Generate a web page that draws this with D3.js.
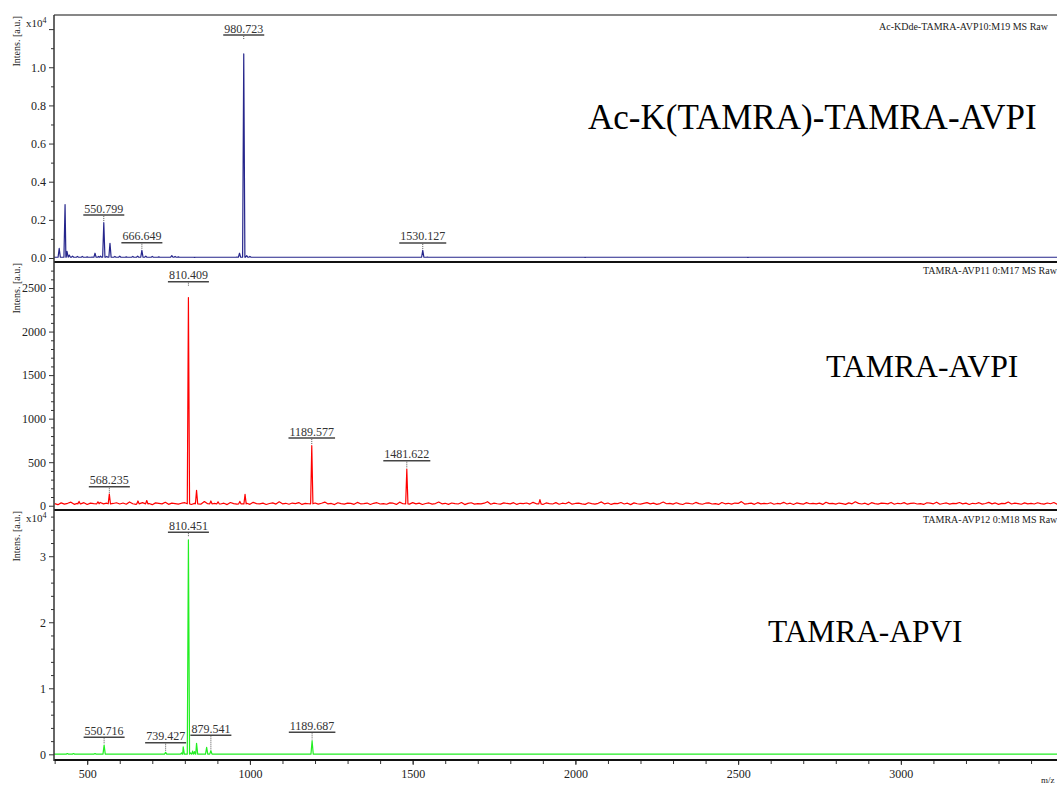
<!DOCTYPE html>
<html><head><meta charset="utf-8">
<script src="https://cdn.jsdelivr.net/npm/d3@7"></script>
<style>
body{margin:0;background:#fff;overflow:hidden}
svg{display:block}
text{font-family:"Liberation Serif","Times New Roman",serif;}
</style>
</head><body>
<svg id="c" width="1057" height="787"></svg>
<script>
// ---------------- DATA ----------------
const xDomain = [398, 3500];
const xMajorTicks = [500, 1000, 1500, 2000, 2500, 3000, 3500];
const xMinorTicks = d3.range(400, 3501, 100);

// panel 1 (x10^4 a.u.)
const blueTitle = "Ac-K(TAMRA)-TAMRA-AVPI";
const blueRun = "Ac-KDde-TAMRA-AVP10:M19 MS Raw";
const blueDomain = [-0.021, 1.274];
const blueMajor = [0, 0.2, 0.4, 0.6, 0.8, 1.0, 1.2];
const blueTickLabels = ["0.0", "0.2", "0.4", "0.6", "0.8", "1.0", ""];
const blueMinor = [0.1, 0.3, 0.5, 0.7, 0.9, 1.1];
const bluePeaks = [
  [414,0.05],[432,0.28],[438,0.035],[445,0.015],[455,0.01],[470,0.008],[485,0.008],[500,0.006],
  [515,0.005],[524,0.025],[535,0.008],[541,0.01],[551,0.185],[560,0.008],[570,0.077],[585,0.008],
  [600,0.01],[620,0.006],[640,0.008],[655,0.01],[668,0.04],[680,0.01],[700,0.008],[720,0.006],
  [760,0.012],[770,0.008],[780,0.006],[830,0.003],[960,0.005],[968,0.025],[981,1.07],[990,0.012],
  [1000,0.008],[1140,0.004],[1430,0.004],[1531,0.04],[1545,0.005],[2030,0.003],[2530,0.003]
];
const blueBase = 0.004;
const blueLabels = [
  ["980.723", 981, 1.169], ["550.799", 551, 0.225], ["666.649", 668, 0.08], ["1530.127", 1531, 0.079]
];

// panel 2 (a.u.)
const redTitle = "TAMRA-AVPI";
const redRun = "TAMRA-AVP11 0:M17 MS Raw";
const redDomain = [-49, 2799];
const redMajor = [0, 500, 1000, 1500, 2000, 2500];
const redTickLabels = ["0", "500", "1000", "1500", "2000", "2500"];
const redMinor = d3.range(100, 2800, 100).filter(v => v % 500 !== 0);
const redPeaks = [
  [475,50],[533,45],[568,135],[656,55],[683,60],[811,2390],[836,177],[880,55],[902,45],
  [969,50],[985,131],[1190,690],[1482,420],[1891,70]
];
const redNoiseStart = 400, redNoiseStep = 10;
const redNoise = [
  24,12,33,19,28,41,16,27,22,35,14,30,25,18,38,21,29,13,26,34,
  20,31,17,44,23,15,28,36,19,25,12,33,27,21,40,16,30,24,18,29,
  35,22,14,27,31,19,48,23,17,26,34,20,29,13,37,25,18,32,22,28,
  16,39,24,21,30,14,26,33,19,45,22,28,17,31,25,36,15,27,23,20,
  32,18,29,42,21,26,13,34,24,19,30,27,16,38,22,25,31,14,28,35,
  20,24,17,33,29,15,41,23,27,19,36,21,30,14,26,32,18,25,43,22,
  28,16,31,24,20,37,13,27,34,19,25,22,29,46,17,30,23,18,33,26,
  21,35,15,28,24,31,19,39,22,27,14,32,25,20,36,17,29,23,41,18,
  26,30,22,16,34,25,19,28,44,21,31,15,27,24,37,20,29,13,33,23,
  18,27,36,21,30,16,25,42,23,28,19,34,22,14,31,26,20,38,24,17,
  29,33,20,25,15,37,22,28,18,31,26,47,19,24,30,16,35,21,27,23,
  34,17,26,22,39,20,29,14,32,25,18,36,23,28,21,30,15,40,24,27,
  19,31,25,16,33,22,45,27,20,29,13,35,24,18,30,26,21,38,17,28,
  23,36,18,27,31,20,25,15,34,29,22,41,17,26,32,19,28,24,37,21,
  30,14,28,23,35,18,26,39,21,32,16,27,24,43,20,29,25,17,33,22,
  27,20,34,25,18,31,23,37,16,28,22,30,19,26,35,24,21,29,17,32
];
const redBase = 22;
const redLabels = [
  ["810.409", 811, 2573], ["568.235", 568, 218], ["1189.577", 1190, 777], ["1481.622", 1482, 517]
];

// panel 3 (x10^4 a.u.)
const greenTitle = "TAMRA-APVI";
const greenRun = "TAMRA-AVP12 0:M18 MS Raw";
const greenDomain = [-0.086, 3.70];
const greenMajor = [0, 1, 2, 3];
const greenTickLabels = ["0", "1", "2", "3"];
const greenMinor = [0.2,0.4,0.6,0.8,1.2,1.4,1.6,1.8,2.2,2.4,2.6,2.8,3.2,3.4,3.6];
const greenPeaks = [
  [439,0.012],[458,0.012],[524,0.012],[552,0.14],[741,0.03],[790,0.02],[795,0.115],[811,3.247],
  [818,0.02],[824,0.05],[830,0.04],[836,0.167],[867,0.106],[880,0.055],[1191,0.206]
];
const greenBase = 0.003;
const greenLabels = [
  ["810.451", 811, 3.364], ["550.716", 552, 0.258], ["739.427", 741, 0.176],
  ["879.541", 880, 0.288], ["1189.687", 1191, 0.333]
];

// ---------------- DRAW ----------------
const svg = d3.select("#c");
const X0 = 54, X1 = 1063.6;
const xs = d3.scaleLinear().domain(xDomain).range([X0, X1]);

const panels = [
  {top:15, bottom:262, domain:blueDomain, major:blueMajor, tickLabels:blueTickLabels, minor:blueMinor,
   peaks:bluePeaks, base:blueBase, noise:null, labels:blueLabels, color:"#26268c", exp:true,
   title:blueTitle, titleSize:35, titleX:588, titleY:129, run:blueRun, runX:879, runY:30},
  {top:262, bottom:510, domain:redDomain, major:redMajor, tickLabels:redTickLabels, minor:redMinor,
   peaks:redPeaks, base:redBase, noise:redNoise, labels:redLabels, color:"#ff0000", exp:false,
   title:redTitle, titleSize:31.7, titleX:826, titleY:377, run:redRun, runX:923, runY:274},
  {top:510, bottom:760, domain:greenDomain, major:greenMajor, tickLabels:greenTickLabels, minor:greenMinor,
   peaks:greenPeaks, base:greenBase, noise:null, labels:greenLabels, color:"#22ee22", exp:true,
   title:greenTitle, titleSize:31.4, titleX:768, titleY:642, run:greenRun, runX:923, runY:523}
];

const HW = 3.5; // half width of a peak (in m/z) for drawing

function buildPoints(p) {
  let pts;
  if (p.noise) pts = p.noise.map((v, i) => [redNoiseStart + i * redNoiseStep, v]);
  else pts = [[xDomain[0], p.base], [xDomain[1], p.base]];
  pts = pts.filter(q => !p.peaks.some(k => Math.abs(k[0] - q[0]) <= HW + 1));
  p.peaks.forEach(k => {
    pts.push([k[0] - HW, p.base], [k[0], k[1]], [k[0] + HW, p.base]);
  });
  pts.sort((a, b) => a[0] - b[0]);
  return pts;
}

panels.forEach((p, i) => {
  const ys = d3.scaleLinear().domain(p.domain).range([p.bottom, p.top]);
  const g = svg.append("g");
  const cid = "clip" + i;
  svg.append("clipPath").attr("id", cid).append("rect")
    .attr("x", X0).attr("y", p.top).attr("width", X1 - X0).attr("height", p.bottom - p.top);

  // spectrum
  const line = d3.line().x(d => xs(d[0])).y(d => ys(d[1]));
  g.append("path").datum(buildPoints(p)).attr("d", line)
    .attr("fill", "none").attr("stroke", p.color).attr("stroke-width", 1.2)
    .attr("stroke-linejoin", "round").attr("clip-path", `url(#${cid})`);

  // y axis major
  const ax = d3.axisLeft(ys).tickValues(p.major).tickSize(5).tickPadding(3)
    .tickFormat((d, j) => p.tickLabels[j]);
  const ga = g.append("g").attr("transform", `translate(${X0},0)`).call(ax);
  ga.select(".domain").remove();
  ga.selectAll("line").attr("stroke", "#333");
  ga.selectAll("text").attr("font-size", 12).attr("fill", "#222")
    .attr("font-family", '"Liberation Serif", serif');
  const am = d3.axisLeft(ys).tickValues(p.minor).tickSize(3).tickFormat("");
  const gm = g.append("g").attr("transform", `translate(${X0},0)`).call(am);
  gm.select(".domain").remove();
  gm.selectAll("line").attr("stroke", "#333");

  // y title
  g.append("text").attr("transform", `translate(20,${p.top + 1}) rotate(-90)`)
    .attr("text-anchor", "end").attr("font-size", 10).attr("fill", "#222").text("Intens. [a.u.]");

  if (p.exp) {
    const t = g.append("text").attr("x", 26).attr("y", p.top + 12).attr("font-size", 11).attr("fill", "#222");
    t.append("tspan").text("x10");
    t.append("tspan").attr("dy", -4).attr("font-size", 8).text("4");
  }

  // titles
  g.append("text").attr("x", p.titleX).attr("y", p.titleY).attr("font-size", p.titleSize)
    .attr("fill", "#000").text(p.title);
  g.append("text").attr("x", p.runX).attr("y", p.runY).attr("font-size", 10)
    .attr("fill", "#222").text(p.run);

  // peak labels
  const maxV = d3.max(p.peaks, d => d[1]);
  p.labels.forEach(l => {
    const x = xs(l[1]), yU = ys(l[2]);
    const pk = p.peaks.reduce((a, b) => Math.abs(b[0] - l[1]) < Math.abs(a[0] - l[1]) ? b : a);
    const t = g.append("text").attr("x", x).attr("y", yU - 2.5).attr("text-anchor", "middle")
      .attr("font-size", 12).attr("fill", "#333").text(l[0]);
    const w = t.node().getComputedTextLength();
    g.append("line").attr("x1", x - w / 2 - 1).attr("x2", x + w / 2 + 1).attr("y1", yU).attr("y2", yU)
      .attr("stroke", "#444").attr("stroke-width", 1.5);
    const yEnd = pk[1] > 0.5 * maxV ? yU + 5 : ys(pk[1]) - 1;
    g.append("line").attr("x1", x).attr("x2", x).attr("y1", yU + 1).attr("y2", yEnd)
      .attr("stroke", "#555").attr("stroke-width", 1).attr("stroke-dasharray", "1,1");
  });

  // bottom line of panel
  g.append("line").attr("x1", X0).attr("x2", 1057).attr("y1", p.bottom).attr("y2", p.bottom)
    .attr("stroke", "#111").attr("stroke-width", 2);
});

// top border
svg.append("line").attr("x1", X0).attr("x2", 1057).attr("y1", 15).attr("y2", 15)
  .attr("stroke", "#111").attr("stroke-width", 1.2);
// left axis line
svg.append("line").attr("x1", X0).attr("x2", X0).attr("y1", 15).attr("y2", 761)
  .attr("stroke", "#333").attr("stroke-width", 1.5);

// x axis
const xa = d3.axisBottom(xs).tickValues(xMajorTicks).tickSize(4).tickPadding(4)
  .tickFormat(d => d < 3500 ? d : "");
const gx = svg.append("g").attr("transform", "translate(0,761)").call(xa);
gx.select(".domain").remove();
gx.selectAll("line").attr("stroke", "#333");
gx.selectAll("text").attr("font-size", 12).attr("fill", "#222")
  .attr("font-family", '"Liberation Serif", serif');
const xm = d3.axisBottom(xs).tickValues(xMinorTicks).tickSize(3).tickFormat("");
const gxm = svg.append("g").attr("transform", "translate(0,761)").call(xm);
gxm.select(".domain").remove();
gxm.selectAll("line").attr("stroke", "#333");

svg.append("text").attr("x", 1041).attr("y", 783).attr("font-size", 9).attr("fill", "#222").text("m/z");
</script>
</body></html>
